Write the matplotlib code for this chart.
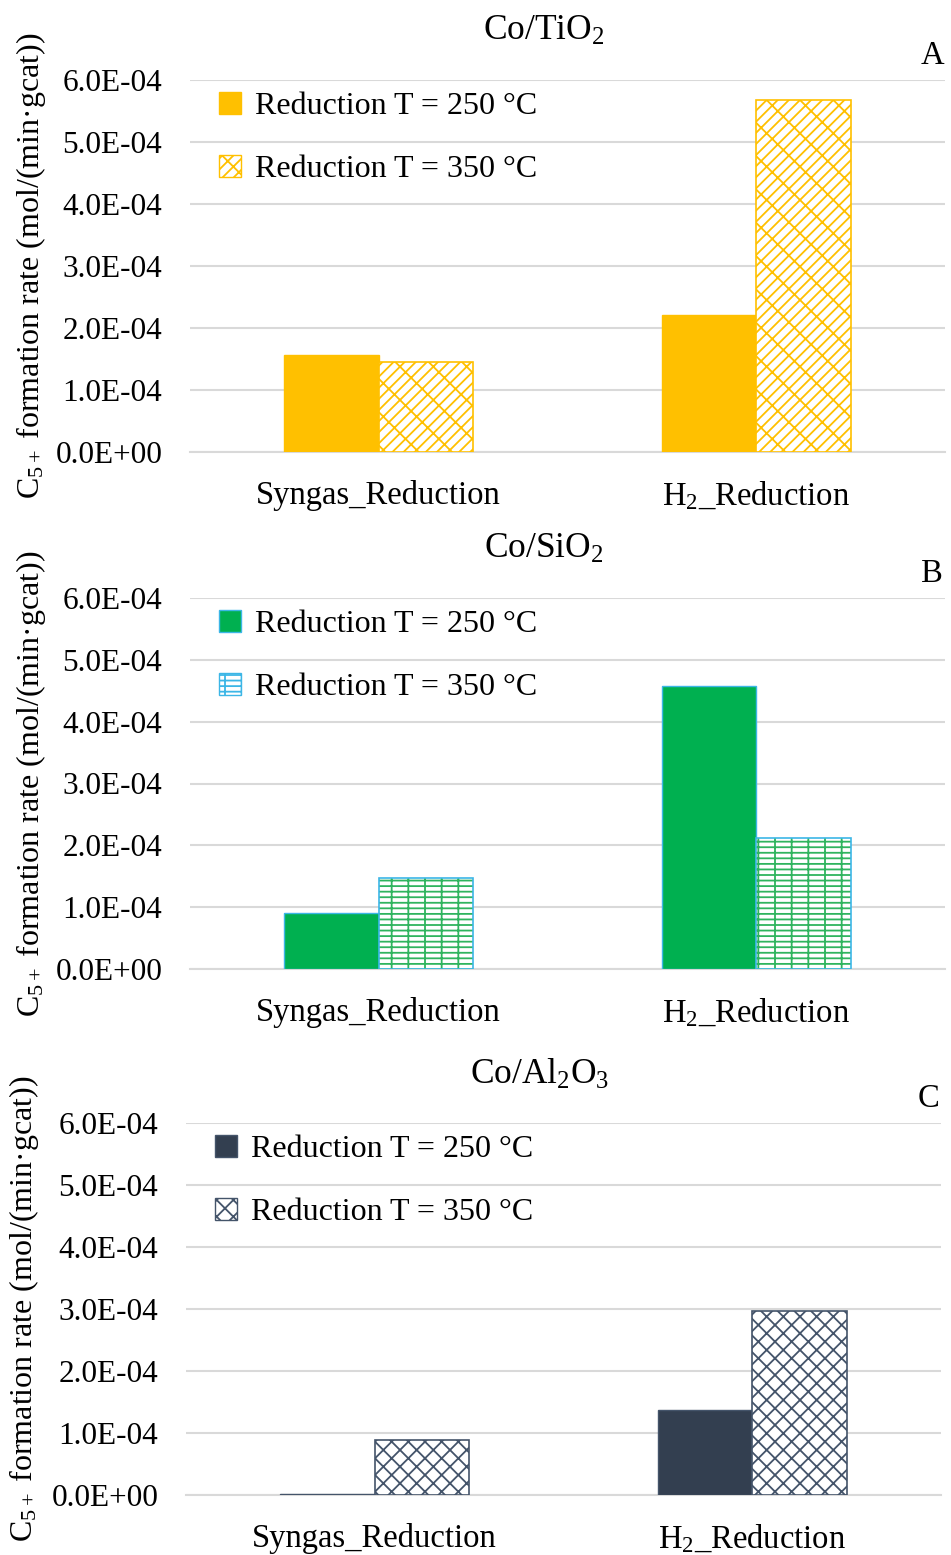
import matplotlib
matplotlib.use("Agg")
import matplotlib.pyplot as plt
import numpy as np

plt.rcParams['font.family'] = ['Liberation Serif', 'DejaVu Serif']
plt.rcParams['mathtext.fontset'] = 'custom'
plt.rcParams['mathtext.rm'] = 'Liberation Serif'
plt.rcParams['mathtext.it'] = 'Liberation Serif:italic'
plt.rcParams['mathtext.default'] = 'regular'
plt.rcParams['hatch.linewidth'] = 1.3

categories = ["Syngas_Reduction", "H$_2$_Reduction"]
series_labels = ["Reduction T = 250 °C", "Reduction T = 350 °C"]
titles = ["Co/TiO$_2$", "Co/SiO$_2$", "Co/Al$_2$O$_3$"]
letters = ["A", "B", "C"]

# C5+ formation rate, mol/(min*gcat)
tio2_250 = [1.56e-4, 2.21e-4]
tio2_350 = [1.45e-4, 5.68e-4]
sio2_250 = [0.91e-4, 4.58e-4]
sio2_350 = [1.47e-4, 2.12e-4]
al2o3_250 = [0.01e-4, 1.37e-4]
al2o3_350 = [0.89e-4, 2.96e-4]

yticks = [0, 1e-4, 2e-4, 3e-4, 4e-4, 5e-4, 6e-4]
ytick_labels = ["0.0E+00", "1.0E-04", "2.0E-04", "3.0E-04", "4.0E-04", "5.0E-04", "6.0E-04"]

panels = [
    dict(v250=tio2_250, v350=tio2_350, fill="#ffc000", hatch_col="#ffc000", edge="#ffc000",
         hatch="///\\", box=[190, 80, 945, 452], ylx=-0.188),
    dict(v250=sio2_250, v350=sio2_350, fill="#00b050", hatch_col="#2fb45e", edge="#3cb6e6",
         hatch="---|", box=[190, 598, 945, 969], ylx=-0.188),
    dict(v250=al2o3_250, v350=al2o3_350, fill="#333f50", hatch_col="#44546a", edge="#44546a",
         hatch="xx", box=[186, 1123, 941, 1495], ylx=-0.192),
]

W, H = 951, 1555
fig = plt.figure(figsize=(W / 100, H / 100), dpi=100)
fs = 22.5
x = np.arange(len(categories))
bw = 0.25

for i, p in enumerate(panels):
    l, t, r, b = p["box"]
    ax = fig.add_axes([l / W, 1 - b / H, (r - l) / W, (b - t) / H])
    h1 = ax.bar(x - bw / 2, p["v250"], bw, color=p["fill"], edgecolor=p["edge"], lw=1, zorder=3,
                label=series_labels[0])
    ax.bar(x + bw / 2, p["v350"], bw, color="white", edgecolor=p["hatch_col"], hatch=p["hatch"],
           lw=0, zorder=3)
    ax.bar(x + bw / 2, p["v350"], bw, fill=False, edgecolor=p["edge"], lw=1.2, zorder=4)
    h2 = plt.Rectangle((0, 0), 1, 1, facecolor="white", edgecolor=p["edge"], hatch=p["hatch"], lw=1)

    ax.set_xlim(-0.5, 1.5)
    ax.set_ylim(0, 6e-4)
    ax.set_yticks(yticks)
    ax.set_yticklabels(ytick_labels)
    ax.set_xticks(x)
    ax.set_xticklabels(categories)
    ax.tick_params(axis="y", length=0, pad=20, labelsize=fs)
    ax.tick_params(axis="x", length=0, pad=20, labelsize=fs + 1)
    ax.grid(axis="y", color="#d9d9d9", lw=1.5, zorder=0)
    for s in ["top", "right", "left"]:
        ax.spines[s].set_visible(False)
    ax.spines["bottom"].set_color("#d9d9d9")
    ax.spines["bottom"].set_linewidth(1.5)

    ax.set_ylabel("C$_{5+}$ formation rate (mol/(min·gcat))", fontsize=fs + 0.5)
    ax.yaxis.set_label_coords(p["ylx"], 0.5)

    ax.legend([h1, h2], series_labels, loc="upper left", bbox_to_anchor=(0.0, 1.045),
              frameon=False, fontsize=fs + 0.5, handlelength=0.7, handleheight=0.7,
              handletextpad=0.45, labelspacing=1.05)

    ax.text(0.468, 1.13, titles[i], transform=ax.transAxes, ha="center", va="center", fontsize=fs + 3)
    ax.text(0.983, 1.065, letters[i], transform=ax.transAxes, ha="center", va="center", fontsize=fs + 1)

fig.savefig("out.png", dpi=100)
